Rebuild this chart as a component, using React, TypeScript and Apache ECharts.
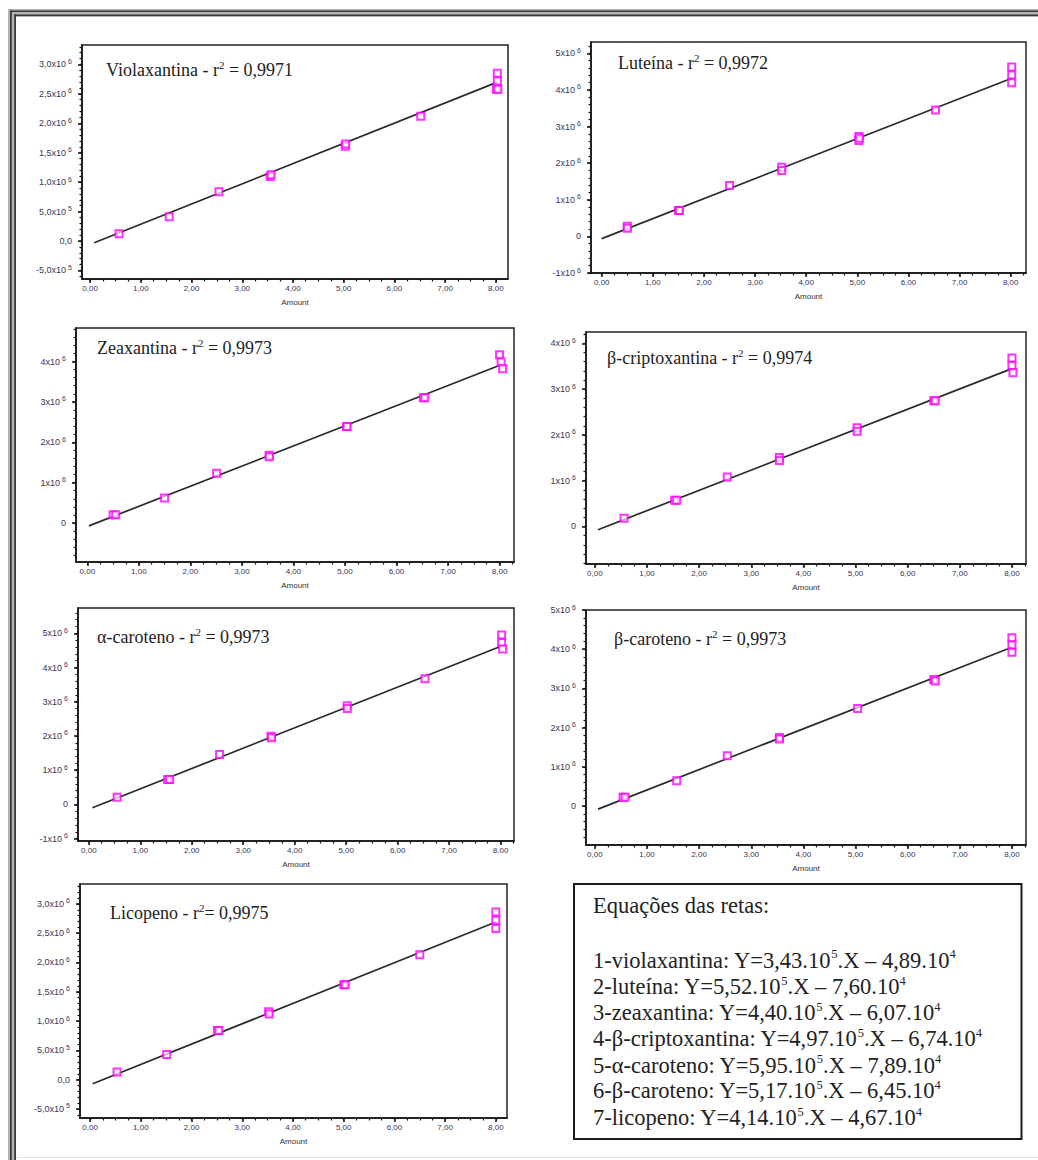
import React, { useEffect, useRef } from "react";
import * as echarts from "echarts";

// ---------- data ----------
const X_MAJOR = [0, 1, 2, 3, 4, 5, 6, 7, 8];
const X_LABELS = ["0,00", "1,00", "2,00", "3,00", "4,00", "5,00", "6,00", "7,00", "8,00"];

const Y_TICKS_HALF = [-500000, 0, 500000, 1000000, 1500000, 2000000, 2500000, 3000000];
const Y_LABELS_HALF = ["-5,0x10^5", "0,0", "5,0x10^5", "1,0x10^6", "1,5x10^6", "2,0x10^6", "2,5x10^6", "3,0x10^6"];
const Y_TICKS_M1_5 = [-1000000, 0, 1000000, 2000000, 3000000, 4000000, 5000000];
const Y_LABELS_M1_5 = ["-1x10^6", "0", "1x10^6", "2x10^6", "3x10^6", "4x10^6", "5x10^6"];
const Y_TICKS_0_4 = [0, 1000000, 2000000, 3000000, 4000000];
const Y_LABELS_0_4 = ["0", "1x10^6", "2x10^6", "3x10^6", "4x10^6"];
const Y_TICKS_0_5 = [0, 1000000, 2000000, 3000000, 4000000, 5000000];
const Y_LABELS_0_5 = ["0", "1x10^6", "2x10^6", "3x10^6", "4x10^6", "5x10^6"];

const VIOLA_X = [0.57, 1.56, 2.54, 3.55, 3.57, 5.03, 5.04, 6.52, 8.03, 8.03, 8.01, 8.04];
const VIOLA_Y = [124000, 413000, 837000, 1095000, 1125000, 1610000, 1650000, 2120000, 2850000, 2720000, 2580000, 2580000];
const VIOLA_FIT_X = [0.08, 8.03];
const VIOLA_FIT_Y = [-30000, 2700000];

const LUTE_X = [0.5, 0.5, 1.5, 1.52, 2.5, 3.52, 3.52, 5.03, 5.03, 5.04, 6.53, 8.02, 8.02, 8.02];
const LUTE_Y = [280000, 220000, 710000, 710000, 1390000, 1890000, 1800000, 2730000, 2620000, 2680000, 3450000, 4630000, 4410000, 4200000];
const LUTE_FIT_X = [0.0, 8.02];
const LUTE_FIT_Y = [-60000, 4320000];

const ZEA_X = [0.5, 0.55, 1.5, 2.51, 3.53, 3.53, 5.03, 5.04, 6.52, 6.55, 8.0, 8.03, 8.06];
const ZEA_Y = [205000, 205000, 620000, 1230000, 1680000, 1640000, 2390000, 2390000, 3100000, 3100000, 4170000, 3990000, 3820000];
const ZEA_FIT_X = [0.03, 8.03];
const ZEA_FIT_Y = [-70000, 3920000];

const BCRIP_X = [0.56, 1.53, 1.57, 2.54, 3.54, 3.54, 5.03, 5.03, 6.5, 6.53, 8.0, 8.0, 8.02];
const BCRIP_Y = [180000, 575000, 575000, 1080000, 1510000, 1440000, 2160000, 2080000, 2745000, 2745000, 3680000, 3520000, 3360000];
const BCRIP_FIT_X = [0.06, 8.0];
const BCRIP_FIT_Y = [-70000, 3450000];

const ACAR_X = [0.55, 1.53, 1.57, 2.54, 3.54, 3.55, 5.02, 5.02, 6.53, 8.02, 8.02, 8.04];
const ACAR_Y = [210000, 730000, 730000, 1460000, 1990000, 1950000, 2880000, 2800000, 3670000, 4950000, 4730000, 4540000];
const ACAR_FIT_X = [0.07, 8.02];
const ACAR_FIT_Y = [-100000, 4630000];

const BCAR_X = [0.54, 0.58, 1.57, 2.54, 3.54, 3.54, 5.04, 6.5, 6.53, 8.0, 8.0, 8.0];
const BCAR_Y = [220000, 220000, 645000, 1280000, 1750000, 1710000, 2490000, 3230000, 3190000, 4290000, 4110000, 3920000];
const BCAR_FIT_X = [0.06, 8.0];
const BCAR_FIT_Y = [-80000, 4050000];

const LICO_X = [0.53, 1.51, 2.51, 2.54, 3.52, 3.53, 5.0, 5.03, 6.5, 8.0, 8.0, 8.0];
const LICO_Y = [130000, 427000, 840000, 840000, 1160000, 1120000, 1620000, 1620000, 2130000, 2860000, 2720000, 2580000];
const LICO_FIT_X = [0.05, 8.0];
const LICO_FIT_Y = [-70000, 2690000];

const EQ_TITLE = "Equações das retas:";
const EQ_LINES = [
  "1-violaxantina: Y=3,43.10^5.X – 4,89.10^4",
  "2-luteína: Y=5,52.10^5.X – 7,60.10^4",
  "3-zeaxantina: Y=4,40.10^5.X – 6,07.10^4",
  "4-β-criptoxantina: Y=4,97.10^5.X – 6,74.10^4",
  "5-α-caroteno: Y=5,95.10^5.X – 7,89.10^4",
  "6-β-caroteno: Y=5,17.10^5.X – 6,45.10^4",
  "7-licopeno: Y=4,14.10^5.X – 4,67.10^4",
];

// ---------- layout ----------
type Panel = {
  title: string;
  xs: number[];
  ys: number[];
  fx: number[];
  fy: number[];
  yTicks: number[];
  yLabels: string[];
  yMinor: number;
  box: [number, number, number, number];
  xr: [number, number];
  yr: [number, number];
  tpos: [number, number];
};

const PANELS: Panel[] = [
  { title: "Violaxantina - r^2 = 0,9971", xs: VIOLA_X, ys: VIOLA_Y, fx: VIOLA_FIT_X, fy: VIOLA_FIT_Y, yTicks: Y_TICKS_HALF, yLabels: Y_LABELS_HALF, yMinor: 100000, box: [82, 45, 426, 234], xr: [-0.16, 8.24], yr: [-645000, 3330000], tpos: [106, 70] },
  { title: "Luteína - r^2 = 0,9972", xs: LUTE_X, ys: LUTE_Y, fx: LUTE_FIT_X, fy: LUTE_FIT_Y, yTicks: Y_TICKS_M1_5, yLabels: Y_LABELS_M1_5, yMinor: 200000, box: [591, 42, 435, 231], xr: [-0.21, 8.3], yr: [-1000000, 5310000], tpos: [618, 63] },
  { title: "Zeaxantina - r^2 = 0,9973", xs: ZEA_X, ys: ZEA_Y, fx: ZEA_FIT_X, fy: ZEA_FIT_Y, yTicks: Y_TICKS_0_4, yLabels: Y_LABELS_0_4, yMinor: 200000, box: [76, 328, 438, 234], xr: [-0.22, 8.28], yr: [-965000, 4830000], tpos: [97, 348] },
  { title: "β-criptoxantina - r^2 = 0,9974", xs: BCRIP_X, ys: BCRIP_Y, fx: BCRIP_FIT_X, fy: BCRIP_FIT_Y, yTicks: Y_TICKS_0_4, yLabels: Y_LABELS_0_4, yMinor: 200000, box: [586, 332, 440, 232], xr: [-0.17, 8.27], yr: [-820000, 4250000], tpos: [607, 358] },
  { title: "α-caroteno - r^2 = 0,9973", xs: ACAR_X, ys: ACAR_Y, fx: ACAR_FIT_X, fy: ACAR_FIT_Y, yTicks: Y_TICKS_M1_5, yLabels: Y_LABELS_M1_5, yMinor: 200000, box: [78, 608, 436, 233], xr: [-0.21, 8.26], yr: [-1070000, 5740000], tpos: [97, 637] },
  { title: "β-caroteno - r^2 = 0,9973", xs: BCAR_X, ys: BCAR_Y, fx: BCAR_FIT_X, fy: BCAR_FIT_Y, yTicks: Y_TICKS_0_5, yLabels: Y_LABELS_0_5, yMinor: 200000, box: [586, 610, 440, 235], xr: [-0.17, 8.27], yr: [-995000, 5000000], tpos: [614, 639] },
  { title: "Licopeno - r^2= 0,9975", xs: LICO_X, ys: LICO_Y, fx: LICO_FIT_X, fy: LICO_FIT_Y, yTicks: Y_TICKS_HALF, yLabels: Y_LABELS_HALF, yMinor: 100000, box: [80, 884, 427, 234], xr: [-0.2, 8.22], yr: [-655000, 3340000], tpos: [110, 913] },
];

const LABEL_COLOR = "#3a3558";
const SERIF = "'Liberation Serif', 'Times New Roman', serif";
const SANS = "'Liberation Sans', Arial, sans-serif";

function toRich(s: string, a: string, sup: string): string {
  const parts = s.split("^");
  let out = `{${a}|${parts[0]}}`;
  for (let i = 1; i < parts.length; i++) {
    const p = parts[i];
    out += `{${sup}|${p.charAt(0)}}`;
    if (p.length > 1) out += `{${a}|${p.slice(1)}}`;
  }
  return out;
}

function steps(a: number, b: number, step: number): number[] {
  const out: number[] = [];
  const start = Math.ceil(a / step - 1e-9);
  const end = Math.floor(b / step + 1e-9);
  for (let k = start; k <= end; k++) out.push(Math.round(k * step * 1000) / 1000);
  return out;
}

function buildOption() {
  const grid: any[] = [];
  const xAxis: any[] = [];
  const yAxis: any[] = [];
  const series: any[] = [];
  const graphic: any[] = [];

  PANELS.forEach((p, i) => {
    grid.push({
      left: p.box[0],
      top: p.box[1],
      width: p.box[2],
      height: p.box[3],
      show: true,
      borderColor: "#222",
      borderWidth: 1.5,
      backgroundColor: "transparent",
    });
    const xMinor = steps(p.xr[0], p.xr[1], 0.25);
    const yMinor = steps(p.yr[0], p.yr[1], p.yMinor);
    xAxis.push({
      type: "value",
      gridIndex: i,
      position: "bottom",
      min: p.xr[0],
      max: p.xr[1],
      axisLine: { show: true, onZero: false, lineStyle: { color: "#111", width: 1.5 } },
      axisTick: { show: true, inside: false, length: 4, customValues: X_MAJOR, lineStyle: { color: "#111", width: 1.5 } },
      axisLabel: {
        show: true,
        customValues: X_MAJOR,
        formatter: (v: number) => X_LABELS[X_MAJOR.indexOf(v)] ?? "",
        fontSize: 8,
        fontFamily: SANS,
        color: LABEL_COLOR,
        margin: 5,
      },
      splitLine: { show: false },
      name: "Amount",
      nameLocation: "middle",
      nameGap: 19,
      nameTextStyle: { fontSize: 8, fontFamily: SANS, color: "#333" },
    });
    xAxis.push({
      type: "value",
      gridIndex: i,
      position: "bottom",
      min: p.xr[0],
      max: p.xr[1],
      axisLine: { show: false, onZero: false },
      axisTick: { show: true, inside: false, length: 2.5, customValues: xMinor, lineStyle: { color: "#111", width: 1.2 } },
      axisLabel: { show: false },
      splitLine: { show: false },
    });
    yAxis.push({
      type: "value",
      gridIndex: i,
      position: "left",
      min: p.yr[0],
      max: p.yr[1],
      axisLine: { show: true, onZero: false, lineStyle: { color: "#111", width: 1.5 } },
      axisTick: { show: true, inside: false, length: 4, customValues: p.yTicks, lineStyle: { color: "#111", width: 1.5 } },
      axisLabel: {
        show: true,
        customValues: p.yTicks,
        formatter: (v: number) => {
          const k = p.yTicks.indexOf(v);
          return k >= 0 ? toRich(p.yLabels[k], "a", "s") : "";
        },
        margin: 10,
        rich: {
          a: { fontSize: 9, fontFamily: SANS, color: LABEL_COLOR, lineHeight: 13 },
          s: { fontSize: 7, fontFamily: SANS, color: LABEL_COLOR, lineHeight: 7, verticalAlign: "top", padding: [0, 0, 0, 2] },
        },
      },
      splitLine: { show: false },
    });
    yAxis.push({
      type: "value",
      gridIndex: i,
      position: "left",
      min: p.yr[0],
      max: p.yr[1],
      axisLine: { show: false, onZero: false },
      axisTick: { show: true, inside: false, length: 2.5, customValues: yMinor, lineStyle: { color: "#111", width: 1.2 } },
      axisLabel: { show: false },
      splitLine: { show: false },
    });

    series.push({
      type: "line",
      xAxisIndex: 2 * i,
      yAxisIndex: 2 * i,
      data: p.fx.map((x, k) => [x, p.fy[k]]),
      symbol: "none",
      lineStyle: { color: "#2a2a2a", width: 1.7 },
      z: 2,
      silent: true,
    });
    series.push({
      type: "scatter",
      xAxisIndex: 2 * i,
      yAxisIndex: 2 * i,
      data: p.xs.map((x, k) => [x, p.ys[k]]),
      symbol: "rect",
      symbolSize: 7,
      itemStyle: { color: "rgba(255,255,255,0.85)", borderColor: "#ff00ff", borderWidth: 2 },
      z: 3,
      silent: true,
    });

    graphic.push({
      type: "text",
      x: p.tpos[0],
      y: p.tpos[1],
      style: {
        text: toRich(p.title, "t", "ts"),
        align: "left",
        verticalAlign: "middle",
        rich: {
          t: { fontSize: 18, fontFamily: SERIF, fill: "#222", lineHeight: 22 },
          ts: { fontSize: 11, fontFamily: SERIF, fill: "#222", lineHeight: 11, verticalAlign: "top" },
        },
      },
      z: 10,
    });
  });

  // outer double frame
  graphic.push(
    { type: "rect", shape: { x: 8, y: 9, width: 1040, height: 8 }, style: { fill: "#b4b4b4" }, z: 0 },
    { type: "rect", shape: { x: 8, y: 9, width: 8, height: 1160 }, style: { fill: "#b4b4b4" }, z: 0 },
    { type: "rect", shape: { x: 10, y: 10.5, width: 1040, height: 1.6 }, style: { fill: "#3a3a3a" }, z: 1 },
    { type: "rect", shape: { x: 10, y: 10.5, width: 1.8, height: 1160 }, style: { fill: "#3a3a3a" }, z: 1 },
    { type: "rect", shape: { x: 14.2, y: 14.5, width: 1040, height: 1.6 }, style: { fill: "#3a3a3a" }, z: 1 },
    { type: "rect", shape: { x: 14.2, y: 14.5, width: 1.8, height: 1160 }, style: { fill: "#3a3a3a" }, z: 1 },
    { type: "line", shape: { x1: 17, y1: 1157.5, x2: 1038, y2: 1157.5 }, style: { stroke: "#e2e2e2", lineWidth: 1 }, z: 1 }
  );

  // equations box
  graphic.push({
    type: "rect",
    shape: { x: 574, y: 884, width: 447.5, height: 255 },
    style: { fill: "#fff", stroke: "#1a1a1a", lineWidth: 2 },
    z: 5,
  });
  graphic.push({
    type: "text",
    x: 593,
    y: 905,
    style: { text: EQ_TITLE, fontSize: 22.5, fontFamily: SERIF, fill: "#222", align: "left", verticalAlign: "middle" },
    z: 10,
  });
  const eqY = [960, 986.5, 1012.5, 1038.5, 1065, 1090.5, 1117.5];
  EQ_LINES.forEach((line, k) => {
    graphic.push({
      type: "text",
      x: 593,
      y: eqY[k],
      style: {
        text: toRich(line, "e", "es"),
        align: "left",
        verticalAlign: "middle",
        rich: {
          e: { fontSize: 22.5, fontFamily: SERIF, fill: "#222", lineHeight: 25 },
          es: { fontSize: 12.5, fontFamily: SERIF, fill: "#222", lineHeight: 12, verticalAlign: "top" },
        },
      },
      z: 10,
    });
  });

  return {
    animation: false,
    backgroundColor: "#ffffff",
    grid,
    xAxis,
    yAxis,
    series,
    graphic,
  };
}

export default function App() {
  const ref = useRef<HTMLDivElement | null>(null);
  useEffect(() => {
    if (!ref.current) return;
    const chart = echarts.init(ref.current, undefined, { renderer: "svg" });
    chart.setOption(buildOption() as any);
    return () => chart.dispose();
  }, []);
  return (
    <div
      ref={ref}
      style={{ position: "absolute", left: 0, top: 0, width: 1038, height: 1160, background: "#fff" }}
    />
  );
}
